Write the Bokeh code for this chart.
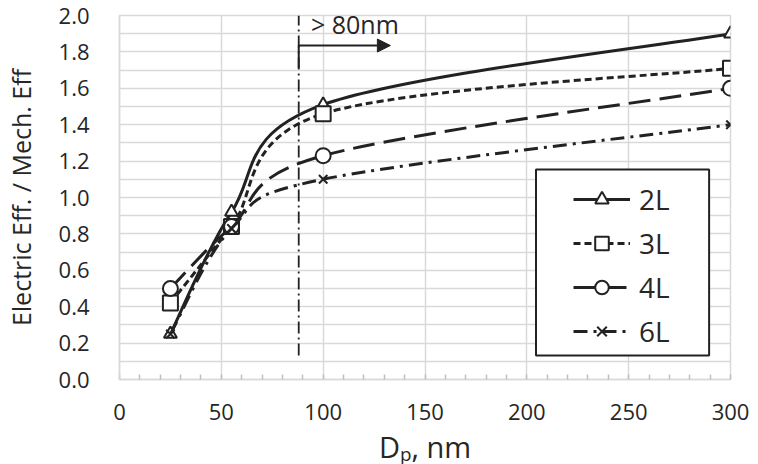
from bokeh.plotting import figure
from bokeh.models import (Range1d, SingleIntervalTicker, PrintfTickFormatter, Legend,
                          LegendItem, BoxAnnotation, Arrow, NormalHead, Label, ColumnDataSource)
from bokeh.embed import file_html
from bokeh.resources import INLINE

# ---- data ----
dp = [25, 55, 100, 300]
eff_2L = [0.25, 0.92, 1.51, 1.90]
eff_3L = [0.42, 0.84, 1.46, 1.71]
eff_4L = [0.50, 0.84, 1.23, 1.60]
eff_6L = [0.25, 0.83, 1.10, 1.40]
series_labels = ["2L", "3L", "4L", "6L"]
threshold_dp = 88
threshold_text = "> 80nm"
x_label = "D\u209a, nm"
y_label = "Electric Eff. / Mech. Eff"

FONT = "Open Sans"
INK = "#222222"
TXT = "#262626"
GRID = "#d9d9d9"


def smooth_segments(xs, ys):
    """Excel-style smoothed line: cubic Bezier control points from neighbours."""
    n = len(xs)
    d = dict(x0=[], y0=[], x1=[], y1=[], cx0=[], cy0=[], cx1=[], cy1=[])
    for i in range(n - 1):
        a = i - 1 if i > 0 else i
        b = i + 2 if i + 2 < n else i + 1
        d["x0"].append(xs[i]); d["y0"].append(ys[i])
        d["x1"].append(xs[i + 1]); d["y1"].append(ys[i + 1])
        d["cx0"].append(xs[i] + (xs[i + 1] - xs[a]) / 6.0)
        d["cy0"].append(ys[i] + (ys[i + 1] - ys[a]) / 6.0)
        d["cx1"].append(xs[i + 1] - (xs[b] - xs[i]) / 6.0)
        d["cy1"].append(ys[i + 1] - (ys[b] - ys[i]) / 6.0)
    return ColumnDataSource(d)


p = figure(width=742, height=448, output_backend="svg", toolbar_location=None,
           x_range=Range1d(0, 300), y_range=Range1d(0, 2.0),
           frame_width=611, frame_height=364,
           min_border_left=109, min_border_right=22, min_border_top=15, min_border_bottom=69)
p.background_fill_color = "white"
p.border_fill_color = "white"
p.outline_line_color = GRID
p.outline_line_width = 1.5

# axes
p.xaxis.ticker = SingleIntervalTicker(interval=50, num_minor_ticks=5)
p.yaxis.ticker = SingleIntervalTicker(interval=0.2, num_minor_ticks=2)
p.yaxis.formatter = PrintfTickFormatter(format="%.1f")
for ax in (p.xaxis[0], p.yaxis[0]):
    ax.axis_line_color = GRID
    ax.axis_line_width = 1.5
    ax.major_label_text_font = FONT
    ax.major_label_text_font_size = "22px"
    ax.major_label_text_color = TXT
    ax.axis_label_text_font = FONT
    ax.axis_label_text_font_style = "normal"
    ax.axis_label_text_color = TXT
p.xaxis.major_tick_line_color = None
p.xaxis.minor_tick_line_color = "#bfbfbf"
p.xaxis.minor_tick_line_width = 1.5
p.xaxis.minor_tick_in = 5
p.xaxis.minor_tick_out = 0
p.xaxis.major_label_standoff = 18
p.xaxis.axis_label = x_label
p.xaxis.axis_label_text_font_size = "29px"
p.xaxis.axis_label_standoff = 4
p.yaxis.major_tick_line_color = None
p.yaxis.minor_tick_line_color = None
p.yaxis.major_label_standoff = 24
p.yaxis.axis_label = y_label
p.yaxis.axis_label_text_font_size = "25px"
p.yaxis.axis_label_standoff = 18

p.xgrid.ticker = SingleIntervalTicker(interval=50)
p.ygrid.ticker = SingleIntervalTicker(interval=0.1)
p.xgrid.grid_line_color = GRID
p.ygrid.grid_line_color = GRID
p.xgrid.grid_line_width = 1.5
p.ygrid.grid_line_width = 1.5

# threshold line and annotation
p.add_layout(Arrow(end=None, x_start=threshold_dp, y_start=0.132, x_end=threshold_dp, y_end=2.0,
                   line_color=INK, line_width=1.8, line_dash="12 4 2 4"))
p.add_layout(Arrow(end=None, x_start=threshold_dp, y_start=1.71, x_end=threshold_dp, y_end=1.835,
                   line_color=INK, line_width=2))
p.add_layout(Arrow(end=NormalHead(size=13, fill_color=INK, line_color=INK),
                   x_start=threshold_dp, y_start=1.835, x_end=133, y_end=1.835,
                   line_color=INK, line_width=2))
p.add_layout(Label(x=94, y=1.955, text=threshold_text, text_font=FONT, text_font_size="25px",
                   text_color=TXT, text_baseline="middle", text_align="left"))

series = [eff_2L, eff_3L, eff_4L, eff_6L]
styles = [
    dict(dash="solid", marker="triangle", size=13),
    dict(dash="7 4", marker="square", size=15),
    dict(dash="22 9", marker="circle", size=15),
    dict(dash="14 6 3 6", marker="x", size=12),
]
items = []
for lab, ys, st in zip(series_labels, series, styles):
    src = smooth_segments(dp, ys)
    r_line = p.bezier(x0="x0", y0="y0", x1="x1", y1="y1", cx0="cx0", cy0="cy0",
                      cx1="cx1", cy1="cy1", source=src, line_color=INK, line_width=3,
                      line_dash=st["dash"])
    r_pts = p.scatter(dp, ys, marker=st["marker"], size=st["size"], line_color=INK,
                      line_width=2, fill_color="white")
    items.append(LegendItem(label=lab, renderers=[r_line, r_pts]))

# legend frame
p.add_layout(BoxAnnotation(left=204.5, right=289.5, bottom=0.132, top=1.154,
                           fill_color="white", fill_alpha=1.0,
                           line_color=INK, line_width=2, line_alpha=1.0))
legend = Legend(items=items, location=(454, 29), orientation="vertical",
                glyph_width=57, glyph_height=34, label_height=34, label_standoff=9,
                spacing=6, padding=7, margin=0,
                label_text_font=FONT, label_text_font_size="28px", label_text_color=TXT,
                border_line_color=None, background_fill_alpha=0.0)
p.add_layout(legend, "center")

open("out.html", "w").write(file_html(p, INLINE))
